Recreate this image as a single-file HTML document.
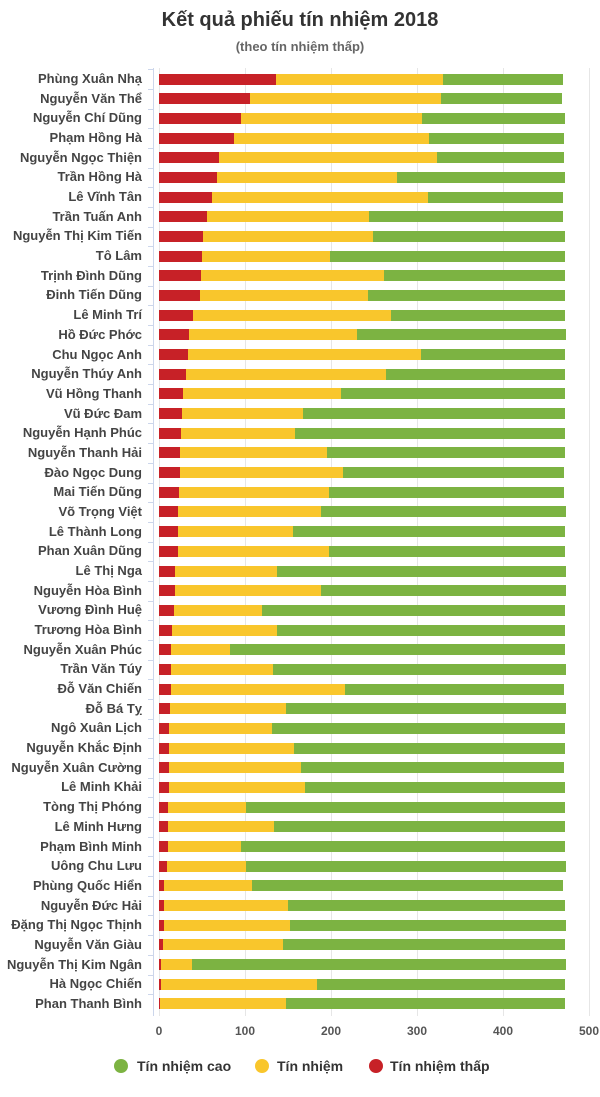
<!DOCTYPE html>
<html><head><meta charset="utf-8"><style>
body{margin:0;background:#fff;font-family:"Liberation Sans",sans-serif;}
#c{position:relative;width:600px;height:1097px;overflow:hidden}
.t{position:absolute;left:0;width:600px;text-align:center;font-weight:bold}
.l{position:absolute;right:458px;font-size:13px;font-weight:bold;color:#444;white-space:nowrap;line-height:14px}
.b{position:absolute;height:11px}
.g{position:absolute;top:68px;height:948px;width:1px;background:#e6e6e6}
.x{position:absolute;top:1024px;font-size:12px;font-weight:bold;color:#555;width:40px;text-align:center}
.lg{position:absolute;top:1058px;font-size:14px;font-weight:bold;color:#333}
.dot{position:absolute;top:1059px;width:14px;height:14px;border-radius:7px}
</style></head><body><div id="c">
<div class="t" style="top:9px;font-size:20px;color:#333">Kết quả phiếu tín nhiệm 2018</div>
<div class="t" style="top:39px;font-size:13px;color:#666">(theo tín nhiệm thấp)</div>
<div style="position:absolute;left:153px;top:68px;width:1px;height:948px;background:#ccd6eb"></div>
</div>
<script>
var d=[["Phùng Xuân Nhạ",276,443,563],["Nguyễn Văn Thể",250,441,562],["Nguyễn Chí Dũng",241,422,565],["Phạm Hồng Hà",234,429,564],["Nguyễn Ngọc Thiện",219,437,564],["Trần Hồng Hà",217,397,565],["Lê Vĩnh Tân",212,428,563],["Trần Tuấn Anh",207,369,563],["Nguyễn Thị Kim Tiến",203,373,565],["Tô Lâm",202,330,565],["Trịnh Đình Dũng",201,384,565],["Đinh Tiến Dũng",200,368,565],["Lê Minh Trí",193,391,565],["Hồ Đức Phớc",189,357,566],["Chu Ngọc Anh",188,421,565],["Nguyễn Thúy Anh",186,386,565],["Vũ Hồng Thanh",183,341,565],["Vũ Đức Đam",182,303,565],["Nguyễn Hạnh Phúc",181,295,565],["Nguyễn Thanh Hải",180,327,565],["Đào Ngọc Dung",180,343,564],["Mai Tiến Dũng",179,329,564],["Võ Trọng Việt",178,321,566],["Lê Thành Long",178,293,565],["Phan Xuân Dũng",178,329,565],["Lê Thị Nga",175,277,566],["Nguyễn Hòa Bình",175,321,566],["Vương Đình Huệ",174,262,565],["Trương Hòa Bình",172,277,565],["Nguyễn Xuân Phúc",171,230,565],["Trần Văn Túy",171,273,566],["Đỗ Văn Chiến",171,345,564],["Đỗ Bá Tỵ",170,286,566],["Ngô Xuân Lịch",169,272,565],["Nguyễn Khắc Định",169,294,565],["Nguyễn Xuân Cường",169,301,564],["Lê Minh Khải",169,305,565],["Tòng Thị Phóng",168,246,565],["Lê Minh Hưng",168,274,565],["Phạm Bình Minh",168,241,565],["Uông Chu Lưu",167,246,566],["Phùng Quốc Hiển",164,252,563],["Nguyễn Đức Hải",164,288,565],["Đặng Thị Ngọc Thịnh",164,290,566],["Nguyễn Văn Giàu",163,283,565],["Nguyễn Thị Kim Ngân",161,192,566],["Hà Ngọc Chiến",161,317,565],["Phan Thanh Bình",160,286,565]];
var c=document.getElementById('c'),h='';
for(var i=0;i<6;i++){var x=159+86*i;h+='<div class="g" style="left:'+x+'px"></div><div class="x" style="left:'+(x-20)+'px">'+(i*100)+'</div>';}
for(var i=0;i<48;i++){var r=d[i],y=79+i*19.68;
h+='<div class="l" style="top:'+(y-7)+'px">'+r[0]+'</div>';
h+='<div style="position:absolute;left:148px;width:5px;height:1px;background:#ccd6eb;top:'+(y-9.8).toFixed(1)+'px"></div>';
h+='<div class="b" style="background:#c72127;left:159px;width:'+(r[1]-159)+'px;top:'+(y-5.5)+'px"></div>';
h+='<div class="b" style="background:#f9c62c;left:'+r[1]+'px;width:'+(r[2]-r[1])+'px;top:'+(y-5.5)+'px"></div>';
h+='<div class="b" style="background:#7cb342;left:'+r[2]+'px;width:'+(r[3]-r[2])+'px;top:'+(y-5.5)+'px"></div>';}
h+='<div class="dot" style="left:114px;background:#7cb342"></div><div class="lg" style="left:137px">Tín nhiệm cao</div>';
h+='<div class="dot" style="left:255px;background:#f9c62c"></div><div class="lg" style="left:277px">Tín nhiệm</div>';
h+='<div class="dot" style="left:369px;background:#c72127"></div><div class="lg" style="left:390px">Tín nhiệm thấp</div>';
c.insertAdjacentHTML('beforeend',h);
</script></body></html>
